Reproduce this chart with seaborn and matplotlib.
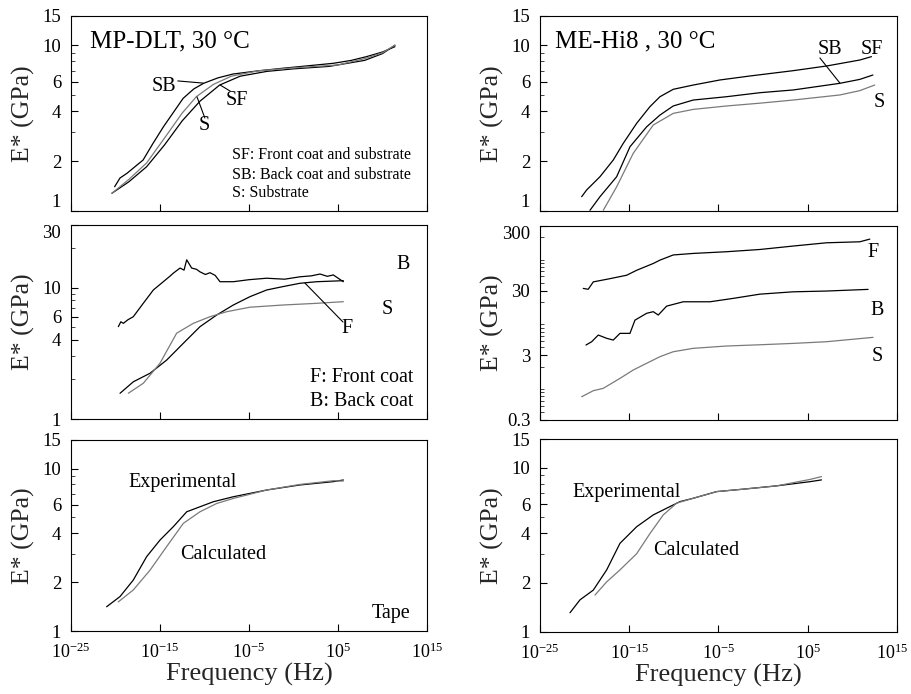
import numpy as np
import pandas as pd
import matplotlib
matplotlib.use("Agg")
import matplotlib.pyplot as plt
import matplotlib.transforms as mtransforms
from matplotlib.ticker import FixedLocator, NullFormatter, NullLocator, FuncFormatter
import seaborn as sns

# ---------------- data (log10 frequency, E* in GPa) ----------------
# Top-left: MP-DLT, 30 C
tl_sb_logf = [-20.1, -19.5, -18.7, -16.9, -15.8, -14.6, -13.4, -12.4, -11.2, -10.1, -8.5, -6.8, -4.0, -1.2, 1.5, 4.5, 6.5, 8.2, 10.0, 11.4]
tl_sb_E = [1.40, 1.58, 1.69, 2.03, 2.55, 3.23, 4.0, 4.78, 5.45, 5.89, 6.35, 6.70, 7.0, 7.26, 7.5, 7.78, 8.1, 8.53, 9.1, 9.8]
tl_sf_logf = [-20.4, -18.5, -16.5, -14.5, -12.5, -10.5, -8.3, -6.0, -3.0, 0.0, 4.0, 8.0, 10.0, 11.4]
tl_sf_E = [1.28, 1.50, 1.85, 2.5, 3.5, 4.6, 5.75, 6.5, 6.95, 7.2, 7.45, 8.1, 8.9, 10.0]
tl_s_logf = [-20.4, -18.5, -16.5, -14.5, -12.5, -10.9, -9.0, -7.0, -4.0, 0.0, 5.0, 8.0, 10.0, 11.4]
tl_s_E = [1.28, 1.55, 1.95, 2.75, 3.9, 4.9, 5.8, 6.5, 7.0, 7.3, 7.6, 8.3, 9.0, 10.0]

# Top-right: ME-Hi8, 30 C
tr_sf_logf = [-20.33, -19.77, -18.28, -16.79, -15.67, -14.17, -12.68, -11.56, -10.07, -7.83, -4.84, -1.48, 3.37, 7.1, 10.83, 12.14]
tr_sf_E = [1.22, 1.34, 1.61, 2.03, 2.56, 3.38, 4.26, 4.89, 5.42, 5.75, 6.17, 6.52, 7.02, 7.49, 8.14, 8.53]
tr_sb_logf = [-19.4, -18.28, -16.41, -14.92, -13.05, -11.56, -10.07, -7.83, -4.1, -0.36, 3.37, 8.6, 10.83, 12.3]
tr_sb_E = [1.01, 1.22, 1.61, 2.44, 3.22, 3.79, 4.30, 4.67, 4.89, 5.17, 5.37, 5.89, 6.22, 6.61]
tr_s_logf = [-17.91, -16.41, -14.55, -12.31, -10.07, -7.83, -4.1, -0.36, 3.37, 8.6, 10.83, 12.5]
tr_s_E = [1.01, 1.40, 2.23, 3.30, 3.88, 4.10, 4.30, 4.47, 4.67, 5.01, 5.32, 5.75]

# Middle-left: individual layers, MP-DLT
ml_b_logf = [-19.68, -19.4, -19.12, -18.6, -18.0, -16.88, -15.75, -14.63, -13.9, -13.5, -12.75, -12.3, -12.0, -11.44, -10.9, -10.51, -9.9, -9.38, -8.8, -8.26, -6.76, -5.0, -3.02, -1.0, 0.73, 2.0, 2.98, 3.8, 4.47, 5.6]
ml_b_E = [5.05, 5.5, 5.35, 5.7, 6.01, 7.6, 9.6, 11.1, 12.2, 12.9, 14.1, 13.6, 16.3, 14.1, 13.8, 13.2, 12.6, 13.0, 12.4, 11.1, 11.1, 11.5, 11.8, 11.6, 12.1, 12.3, 12.7, 12.2, 12.5, 11.1]
ml_f_logf = [-19.49, -18.0, -16.12, -14.25, -12.38, -10.5, -8.63, -6.76, -4.89, -3.02, -1.15, 0.73, 2.6, 5.6]
ml_f_E = [1.57, 1.92, 2.23, 2.81, 3.77, 5.05, 6.19, 7.38, 8.54, 9.6, 10.2, 10.8, 11.1, 11.3]
ml_s_logf = [-18.56, -16.88, -15.0, -13.13, -11.26, -9.38, -7.51, -4.89, -1.15, 2.6, 5.6]
ml_s_E = [1.57, 1.87, 2.66, 4.5, 5.35, 6.01, 6.56, 7.1, 7.38, 7.6, 7.82]

# Middle-right: individual layers, ME-Hi8
mr_f_logf = [-20.15, -19.6, -19.03, -17.16, -15.29, -14.17, -12.31, -11.56, -10.07, -7.83, -4.1, -0.36, 3.37, 7.1, 10.83, 11.95]
mr_f_E = [32.5, 31.5, 41, 46, 52, 62, 79, 89, 107, 113, 120, 130, 147, 165, 171, 188]
mr_b_logf = [-19.85, -19.21, -18.47, -17.53, -16.79, -16.04, -14.92, -14.36, -13.05, -12.31, -11.75, -10.81, -8.95, -5.96, -3.35, -0.36, 3.37, 7.1, 11.76]
mr_b_E = [4.33, 4.87, 6.18, 5.5, 5.17, 6.56, 6.56, 10.5, 13.4, 14.2, 12.6, 17.3, 20.2, 20.2, 22.8, 26.5, 28.8, 29.6, 31.4]
mr_s_logf = [-20.33, -19.03, -17.91, -16.04, -14.55, -13.05, -11.56, -10.07, -7.83, -4.1, -0.36, 3.37, 7.1, 12.32]
mr_s_E = [0.687, 0.851, 0.927, 1.32, 1.78, 2.26, 2.86, 3.41, 3.85, 4.18, 4.37, 4.59, 4.87, 5.69]

# Bottom-left: tape MP-DLT experimental vs calculated
bl_exp_logf = [-21.0, -19.49, -18.0, -16.5, -15.0, -13.5, -12.0, -10.51, -9.01, -6.76, -3.02, 0.73, 4.47, 5.6]
bl_exp_E = [1.41, 1.63, 2.06, 2.87, 3.63, 4.39, 5.42, 5.82, 6.25, 6.71, 7.38, 7.93, 8.31, 8.51]
bl_cal_logf = [-19.69, -18.0, -16.12, -14.25, -12.38, -10.51, -8.63, -6.76, -3.02, 0.73, 4.47, 5.6]
bl_cal_E = [1.51, 1.79, 2.37, 3.31, 4.6, 5.42, 6.1, 6.55, 7.38, 7.99, 8.42, 8.38]

# Bottom-right: tape ME-Hi8 experimental vs calculated
br_exp_logf = [-21.64, -20.52, -19.03, -17.53, -16.04, -14.17, -12.31, -10.81, -9.32, -7.83, -5.21, -2.23, 1.5, 5.23, 6.54]
br_exp_E = [1.31, 1.57, 1.80, 2.39, 3.47, 4.38, 5.17, 5.68, 6.23, 6.53, 7.17, 7.42, 7.77, 8.24, 8.45]
br_cal_logf = [-18.84, -17.53, -16.04, -14.17, -12.68, -11.19, -9.69, -7.83, -5.21, -2.23, 1.5, 5.23, 6.54]
br_cal_E = [1.68, 2.02, 2.39, 3.0, 3.98, 5.17, 6.1, 6.53, 7.17, 7.42, 7.77, 8.5, 8.85]

x_ticks = [1e-25, 1e-15, 1e-5, 1e5, 1e15]

# ---------------- style ----------------
sns.set_theme(style="ticks")
plt.rcParams["font.family"] = ["Liberation Serif", "DejaVu Serif"]
plt.rcParams["mathtext.fontset"] = "custom"
plt.rcParams["mathtext.rm"] = "Liberation Serif"
plt.rcParams["xtick.direction"] = "in"
plt.rcParams["ytick.direction"] = "in"

fig = plt.figure(figsize=(9.12, 6.94), dpi=100)

def px_axes(l, t, r, b):
    W, H = 912.0, 694.0
    return fig.add_axes([l / W, 1 - b / H, (r - l) / W, (b - t) / H])

ax_tl = px_axes(71, 16, 427, 211)
ax_ml = px_axes(71, 225, 427, 419)
ax_bl = px_axes(71, 440, 427, 631)
ax_tr = px_axes(540, 16, 897, 211)
ax_mr = px_axes(540, 226, 897, 420)
ax_br = px_axes(540, 439, 897, 632)

GREY = {"S", "Calculated"}

def draw(ax, series):
    frames = []
    for name, lf, e in series:
        frames.append(pd.DataFrame({"freq": 10.0 ** np.asarray(lf), "E": e, "series": name}))
    df = pd.concat(frames, ignore_index=True)
    for name, lf, e in series:
        sub = df[df.series == name]
        color = "#7a7a7a" if name in GREY else "black"
        sns.lineplot(data=sub, x="freq", y="E", ax=ax, color=color, lw=0.9,
                     estimator=None, sort=False, legend=False)

draw(ax_tl, [("SB", tl_sb_logf, tl_sb_E), ("SF", tl_sf_logf, tl_sf_E), ("S", tl_s_logf, tl_s_E)])
draw(ax_tr, [("SF", tr_sf_logf, tr_sf_E), ("SB", tr_sb_logf, tr_sb_E), ("S", tr_s_logf, tr_s_E)])
draw(ax_ml, [("B", ml_b_logf, ml_b_E), ("F", ml_f_logf, ml_f_E), ("S", ml_s_logf, ml_s_E)])
draw(ax_mr, [("F", mr_f_logf, mr_f_E), ("B", mr_b_logf, mr_b_E), ("S", mr_s_logf, mr_s_E)])
draw(ax_bl, [("Experimental", bl_exp_logf, bl_exp_E), ("Calculated", bl_cal_logf, bl_cal_E)])
draw(ax_br, [("Experimental", br_exp_logf, br_exp_E), ("Calculated", br_cal_logf, br_cal_E)])

def xfmt(v, pos):
    e = int(round(np.log10(v)))
    return r"$\mathregular{10^{%d}}$" % e

def setup(ax, ylim, majors, minors, labels, bottom):
    ax.set_xscale("log")
    ax.set_yscale("log")
    ax.set_xlim(1e-25, 1e15)
    ax.set_ylim(*ylim)
    ax.xaxis.set_major_locator(FixedLocator(x_ticks))
    ax.xaxis.set_minor_locator(NullLocator())
    ax.yaxis.set_major_locator(FixedLocator(majors))
    ax.yaxis.set_major_formatter(FuncFormatter(lambda v, p, lab=dict(zip(majors, labels)): lab.get(v, "")))
    ax.yaxis.set_minor_locator(FixedLocator(minors))
    ax.yaxis.set_minor_formatter(NullFormatter())
    ax.tick_params(axis="both", which="major", labelsize=13.5, length=5, width=0.8, colors="black")
    ax.tick_params(axis="x", which="major", labelsize=13, pad=8)
    ax.tick_params(axis="y", which="major", pad=7)
    ax.tick_params(axis="y", which="minor", length=3, width=0.6)
    for s in ax.spines.values():
        s.set_linewidth(0.8)
        s.set_color("black")
    if bottom:
        ax.xaxis.set_major_formatter(FuncFormatter(xfmt))
        ax.set_xlabel("Frequency (Hz)", fontsize=19)
        ax.xaxis.set_label_coords(0.5, -0.165)
    else:
        ax.set_xticklabels([])
        ax.set_xlabel("")
    ax.set_ylabel("E* (GPa)", fontsize=18.5)
    ax.yaxis.set_label_coords(-0.102, 0.5)

top_major = [1, 2, 4, 6, 10, 15]
top_minor = [3, 5, 7, 8, 9]
top_labels = ["1", "2", "4", "6", "10", "15"]
setup(ax_tl, (1, 15), top_major, top_minor, top_labels, False)
setup(ax_tr, (1, 15), top_major, top_minor, top_labels, False)
setup(ax_bl, (1, 15), top_major, top_minor, top_labels, True)
setup(ax_br, (1, 15), top_major, top_minor, top_labels, True)
setup(ax_ml, (1, 30), [1, 4, 6, 10, 30], [2, 3, 5, 7, 8, 9, 20], ["1", "4", "6", "10", "30"], False)
mr_minor = [m * d for d in (0.1, 1, 10, 100) for m in range(2, 10) if 0.3 < m * d < 300 and m * d not in (3, 30)]
setup(ax_mr, (0.3, 300), [0.3, 3, 30, 300], mr_minor, ["0.3", "3", "30", "300"], False)

# keep the touching labels between the top and middle rows apart (as in the reference)
for ax in (ax_tl, ax_tr):
    ax.yaxis.get_major_ticks()[0].label1.set_va("bottom")
for ax in (ax_ml, ax_mr):
    ax.yaxis.get_major_ticks()[-1].label1.set_va("top")

# nudge the last x tick label of the right column slightly left so it stays inside the figure
last = ax_br.xaxis.get_major_ticks()[-1].label1
last.set_transform(last.get_transform() + mtransforms.ScaledTranslation(-5 / 100, 0, fig.dpi_scale_trans))

# ---------------- annotations ----------------
def lbl(ax, x, y, s, size=14.5, ha="center"):
    ax.text(x, y, s, transform=ax.transAxes, fontsize=size, ha=ha, va="center", color="black")

def ptr(ax, x0, y0, x1, y1):
    ax.annotate("", xy=(x1, y1), xytext=(x0, y0), xycoords="axes fraction", textcoords="axes fraction",
                arrowprops=dict(arrowstyle="-", lw=0.8, color="black", shrinkA=0, shrinkB=0))

lbl(ax_tl, 0.053, 0.867, "MP-DLT, 30 °C", size=18, ha="left")
lbl(ax_tl, 0.295, 0.641, "SB", ha="right")
ptr(ax_tl, 0.30, 0.667, 0.371, 0.656)
lbl(ax_tl, 0.466, 0.569, "SF")
ptr(ax_tl, 0.447, 0.615, 0.419, 0.646)
lbl(ax_tl, 0.374, 0.436, "S")
ptr(ax_tl, 0.376, 0.477, 0.354, 0.585)
lbl(ax_tl, 0.452, 0.287, "SF: Front coat and substrate", size=11.5, ha="left")
lbl(ax_tl, 0.452, 0.185, "SB: Back coat and substrate", size=11.5, ha="left")
lbl(ax_tl, 0.452, 0.092, "S: Substrate", size=11.5, ha="left")

lbl(ax_tr, 0.042, 0.867, "ME-Hi8 , 30 °C", size=18, ha="left")
lbl(ax_tr, 0.812, 0.826, "SB")
lbl(ax_tr, 0.930, 0.826, "SF")
lbl(ax_tr, 0.950, 0.554, "S")
ptr(ax_tr, 0.784, 0.785, 0.84, 0.656)

lbl(ax_ml, 0.933, 0.794, "B")
lbl(ax_ml, 0.888, 0.562, "S")
lbl(ax_ml, 0.775, 0.469, "F")
ptr(ax_ml, 0.764, 0.500, 0.657, 0.701)
lbl(ax_ml, 0.961, 0.216, "F: Front coat", ha="right")
lbl(ax_ml, 0.961, 0.088, "B: Back coat", ha="right")

lbl(ax_mr, 0.933, 0.861, "F")
lbl(ax_mr, 0.944, 0.567, "B")
lbl(ax_mr, 0.944, 0.325, "S")

lbl(ax_bl, 0.16, 0.78, "Experimental", ha="left")
lbl(ax_bl, 0.306, 0.403, "Calculated", ha="left")
lbl(ax_bl, 0.846, 0.094, "Tape", ha="left")

lbl(ax_br, 0.09, 0.725, "Experimental", ha="left")
lbl(ax_br, 0.317, 0.42, "Calculated", ha="left")

fig.savefig("out.png", dpi=100)
